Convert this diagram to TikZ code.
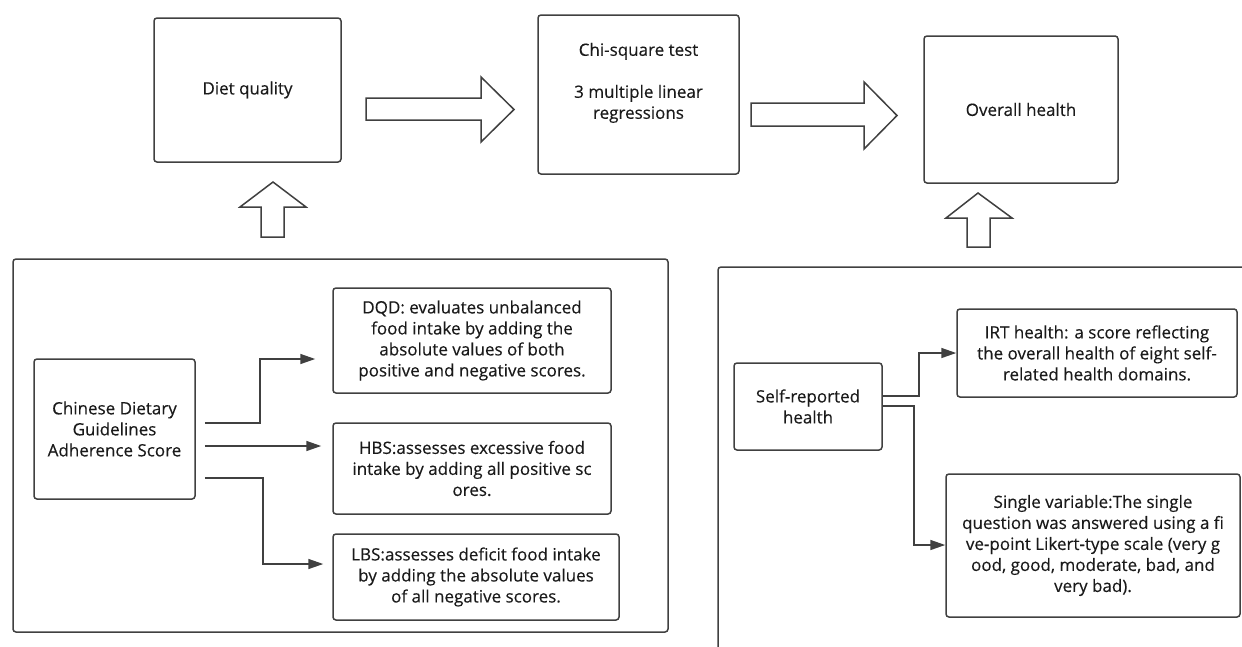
\documentclass[tikz,border=0pt]{standalone}
\usepackage{fontspec}
\setmainfont{Open Sans}
\newfontfamily\boxfont{Open Sans}[FakeBold=0.3]
\usetikzlibrary{arrows.meta}

\definecolor{linegray}{HTML}{404040}
\definecolor{textgray}{HTML}{1A1A1A}

\tikzset{
  box/.style={rectangle, draw=linegray, line width=1.5pt, rounded corners=3pt,
    align=center, inner sep=0pt, text=textgray,
    font=\boxfont\fontsize{17}{21}\selectfont},
  panel/.style={draw=linegray, line width=1.5pt, rounded corners=3pt},
  conn/.style={draw=linegray, line width=1.5pt, -{Triangle[length=15pt,width=10pt]}},
  blockarrow/.style={draw=linegray, line width=1.5pt, fill=white},
}

\begin{document}
\begin{tikzpicture}[x=1pt, y=-1pt]
\useasboundingbox (0,0) rectangle (1242,646);

  % top row
  \node[box, minimum width=187pt, minimum height=144pt] (diet) at (247.5,90) {Diet quality};
  \node[box, minimum width=201pt, minimum height=159pt] (chi) at (638.5,94.5)
        {Chi-square test\\[21pt]3 multiple linear\\regressions\\\strut};
  \node[box, minimum width=194pt, minimum height=147pt] (overall) at (1021,109.5) {Overall health};

  % big arrows
  \draw[blockarrow] (366,98) -- (481,98) -- (481,77) -- (514,109.5) -- (481,142) -- (481,120) -- (366,120) -- cycle;
  \draw[blockarrow] (751,103) -- (864,103) -- (864,82) -- (897,115.5) -- (864,149) -- (864,126) -- (751,126) -- cycle;
  \draw[blockarrow] (273,182) -- (306,207) -- (284,207) -- (284,237) -- (261,237) -- (261,207) -- (240,207) -- cycle;
  \draw[blockarrow] (978,193) -- (1012,218) -- (990,218) -- (990,247) -- (967,247) -- (967,218) -- (946,218) -- cycle;

  % left panel
  \draw[panel] (13,259) rectangle (668,632);
  \node[box, minimum width=161pt, minimum height=140pt] (cdgas) at (114.5,429)
        {Chinese Dietary\\Guidelines\\Adherence Score};
  \node[box, minimum width=278pt, minimum height=105pt] (dqd) at (472,340.5)
        {DQD: evaluates unbalanced\\food intake by adding the\\absolute values of both\\positive and negative scores.};
  \node[box, minimum width=278pt, minimum height=91pt] (hbs) at (472,468.5)
        {HBS:assesses excessive food\\intake by adding all positive sc\\ores.};
  \node[box, minimum width=286pt, minimum height=86pt] (lbs) at (476,577)
        {LBS:assesses deficit food intake\\by adding the absolute values\\of all negative scores.};

  \draw[conn, shorten >=17pt] ([xshift=9pt]cdgas.east |- 0,423) -| (260,359) -- (dqd.west |- 0,359);
  \draw[conn, shorten >=11pt] ([xshift=9pt]cdgas.east |- 0,446) -- (hbs.west |- 0,446);
  \draw[conn, shorten >=9pt] ([xshift=9pt]cdgas.east |- 0,478) -| (263,564) -- (lbs.west |- 0,564);

  % right panel
  \draw[panel] (718,660) -- (718,267) -- (1260,267);
  \node[box, minimum width=148pt, minimum height=87pt] (self) at (808,406.5) {Self-reported\\health};
  \node[box, minimum width=280pt, minimum height=88pt] (irt) at (1097,353)
        {IRT health: a score reflecting\\the overall health of eight self-\\related health domains.};
  \node[box, minimum width=294pt, minimum height=143pt] (single) at (1093,545.5)
        {Single variable:The single\\question was answered using a fi\\ve-point Likert-type scale (very g\\ood, good, moderate, bad, and\\very bad).};

  \draw[conn] (self.east |- 0,396) -| (919,353) -- (irt.west |- 0,353);
  \draw[conn] (self.east |- 0,406) -| (914,545) -- (single.west |- 0,545);

\end{tikzpicture}
\end{document}
